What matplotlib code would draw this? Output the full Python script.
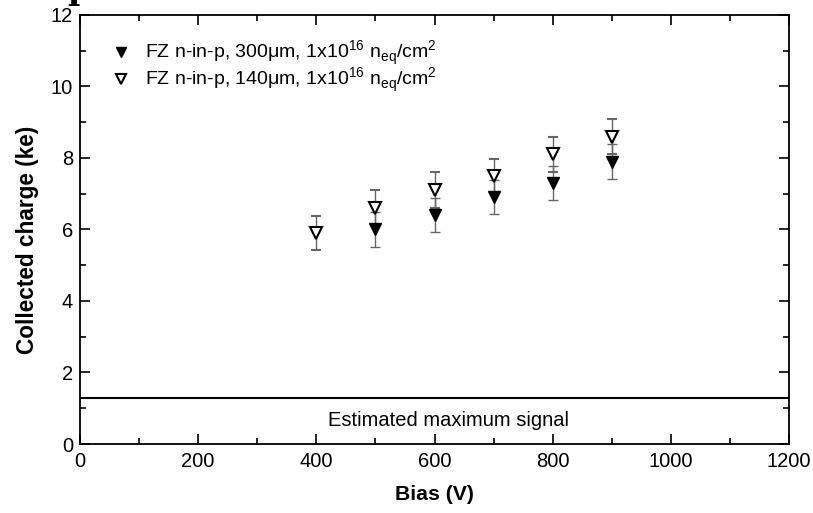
import matplotlib
matplotlib.use("Agg")
import matplotlib.pyplot as plt
from matplotlib.ticker import MultipleLocator

plt.rcParams['font.family'] = ['Liberation Sans', 'DejaVu Sans']
plt.rcParams['mathtext.fontset'] = 'custom'
plt.rcParams['mathtext.rm'] = 'Liberation Sans'

bias_300 = [500, 600, 700, 800, 900]
charge_300 = [6.0, 6.4, 6.9, 7.3, 7.9]
err_300 = [0.48, 0.47, 0.48, 0.47, 0.48]

bias_140 = [400, 500, 600, 700, 800, 900]
charge_140 = [5.9, 6.6, 7.1, 7.5, 8.1, 8.6]
err_140 = [0.48, 0.5, 0.5, 0.48, 0.5, 0.5]

max_signal = 1.3
label_300 = r"FZ n-in-p, 300μm, 1x10$^{16}$ n$_{\mathrm{eq}}$/cm$^{2}$"
label_140 = r"FZ n-in-p, 140μm, 1x10$^{16}$ n$_{\mathrm{eq}}$/cm$^{2}$"

fig = plt.figure(figsize=(8.13, 5.13), dpi=100)
ax = fig.add_axes([0.0984, 0.1345, 0.8721, 0.8363])

ax.errorbar(bias_300, charge_300, yerr=err_300, fmt='v', color='black', ms=8,
            mfc='black', mec='black', ecolor='#666666', elinewidth=1.0,
            capsize=3.3, capthick=1.0, label=label_300, zorder=3)
ax.errorbar(bias_140, charge_140, yerr=err_140, fmt='v', color='black', ms=8,
            mfc='white', mec='black', mew=1.5, ecolor='#666666', elinewidth=1.0,
            capsize=3.3, capthick=1.0, label=label_140, zorder=3)

ax.axhline(max_signal, color='black', lw=1.5)
ax.text(623, 0.67, "Estimated maximum signal", ha='center', va='center', fontsize=14.5)

ax.set_xlim(0, 1200)
ax.set_ylim(0, 12)
ax.xaxis.set_major_locator(MultipleLocator(200))
ax.xaxis.set_minor_locator(MultipleLocator(100))
ax.yaxis.set_major_locator(MultipleLocator(2))
ax.yaxis.set_minor_locator(MultipleLocator(1))
ax.tick_params(which='both', direction='in', top=True, right=True, labelsize=14.5)
ax.tick_params(which='major', length=7, width=1.2)
ax.tick_params(which='minor', length=4, width=1.2)
ax.tick_params(axis='x', pad=6)
ax.tick_params(axis='y', pad=5)
for s in ax.spines.values():
    s.set_linewidth(1.3)

ax.set_xlabel("Bias (V)", fontsize=15.3, fontweight='bold', labelpad=10)
ax.set_ylabel("Collected charge (ke)", fontsize=16.3, fontweight='bold')
ax.yaxis.set_label_coords(-0.058, 0.475)

handles, labels = ax.get_legend_handles_labels()
handles = [h[0] for h in handles]
leg = ax.legend(handles, labels, loc='upper left', frameon=False, fontsize=14,
                handletextpad=0.5, bbox_to_anchor=(0.02, 0.977), borderaxespad=0.3,
                labelspacing=-0.1, handlelength=1.4, markerscale=0.85)

fig.text(67 / 813, 1.0 + 1 / 513, "p", fontsize=24, fontweight='bold',
         family='DejaVu Serif', va='baseline', ha='left')

fig.savefig("out.png", dpi=100)
